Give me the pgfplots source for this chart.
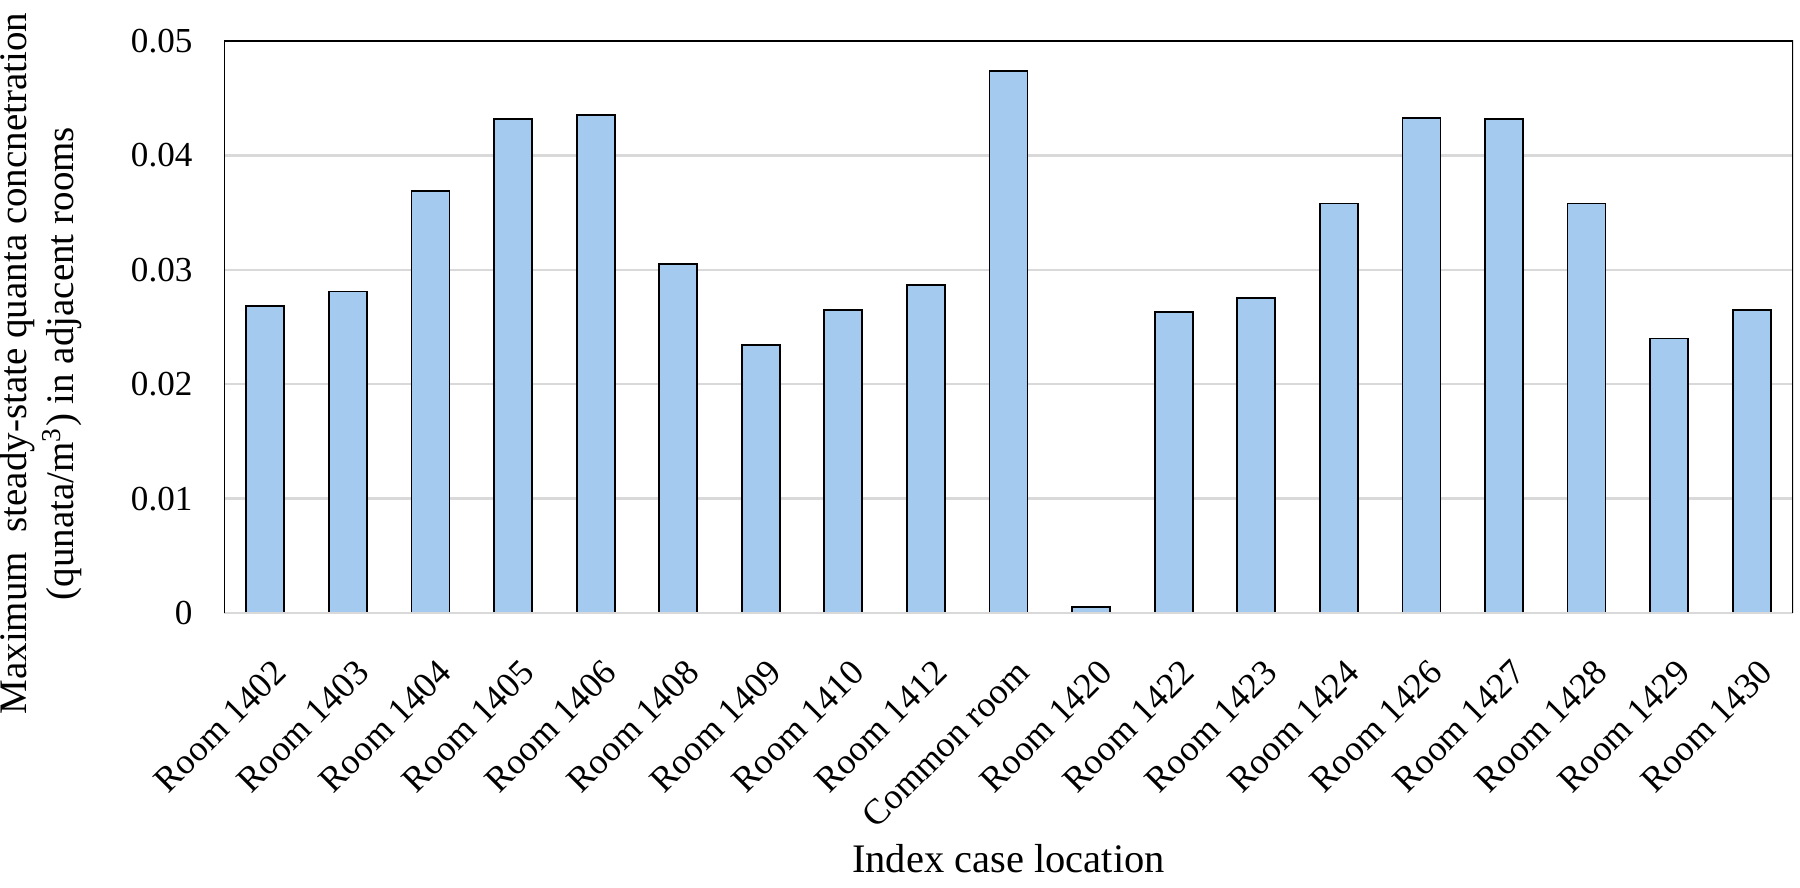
\documentclass[border=0pt]{standalone}
\usepackage{fontspec}
\setmainfont{Liberation Serif}
\usepackage{pgfplots}
\pgfplotsset{compat=1.18}
\definecolor{barblue}{RGB}{165,202,240}
\begin{document}
\begin{tikzpicture}
\path[use as bounding box] (-74.67pt,-91.67pt) rectangle (525.33pt,204.33pt);
\begin{axis}[
  at={(0,0)}, anchor=south west,
  scale only axis, width=523pt, height=190.67pt,
  xmin=-0.5, xmax=18.5, ymin=0, ymax=0.05,
  ybar, bar width=0.46,
  ytick={0,0.01,0.02,0.03,0.04,0.05},
  scaled y ticks=false,
  /pgf/number format/assume math mode=true,
  yticklabel style={/pgf/number format/fixed, /pgf/number format/precision=2, font=\fontsize{11.7}{13.5}\selectfont, xshift=-7pt},
  xtick={0,1,...,18},
  xticklabels={Room 1402,Room 1403,Room 1404,Room 1405,Room 1406,Room 1408,Room 1409,Room 1410,Room 1412,Common room,Room 1420,Room 1422,Room 1423,Room 1424,Room 1426,Room 1427,Room 1428,Room 1429,Room 1430},
  xticklabel style={xshift=2pt, yshift=-14.7pt, rotate=45, anchor=north east, inner sep=0pt, font=\fontsize{12}{14}\selectfont},
  major tick length=0pt,
  ymajorgrids, grid style={black!15, line width=0.8pt},
  axis line style={draw=none},
  xlabel={Index case location},
  xlabel style={at={(axis description cs:0.5,-0.43)}, anchor=center, font=\fontsize{13.5}{16}\selectfont},
  ylabel={Maximum\ \ steady-state quanta concnetration\\(qunata/m\textsuperscript{3}) in adjacent rooms},
  ylabel style={at={(axis description cs:-0.0841,0.436)}, anchor=south, align=center, font=\fontsize{13}{15.5}\selectfont},
]
\addplot[fill=barblue, draw=black, line width=0.6pt, bar shift=0pt] coordinates {
 (0,0.0268) (1,0.0281) (2,0.0369) (3,0.0432) (4,0.0435) (5,0.0305) (6,0.0234)
 (7,0.0265) (8,0.0287) (9,0.0474) (10,0.0005) (11,0.0263) (12,0.0275) (13,0.0358)
 (14,0.0433) (15,0.0432) (16,0.0358) (17,0.0240) (18,0.0265)};
\draw[black!15, line width=0.8pt] (rel axis cs:0,0) -- (rel axis cs:1,0);
\draw[black, line width=0.6pt] (rel axis cs:0,0) -- (rel axis cs:0,1) -- (rel axis cs:1,1) -- (rel axis cs:1,0);
\end{axis}
\end{tikzpicture}
\end{document}
